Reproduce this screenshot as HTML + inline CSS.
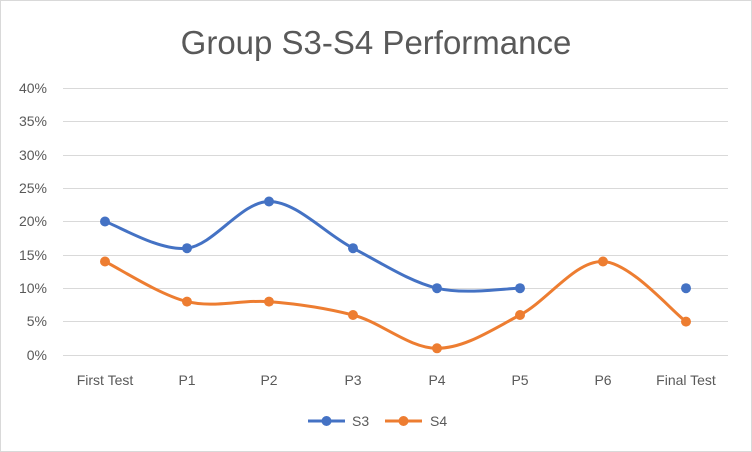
<!DOCTYPE html>
<html><head><meta charset="utf-8"><style>
html,body{margin:0;padding:0;background:#fff;}
svg{display:block;font-family:"Liberation Sans",Calibri,sans-serif;}
</style></head><body>
<svg width="752" height="452" viewBox="0 0 752 452" xmlns="http://www.w3.org/2000/svg">
<rect x="0.5" y="0.5" width="751" height="451" fill="#fff" stroke="#d9d9d9"/>
<text x="376" y="54" text-anchor="middle" font-size="33" fill="#595959">Group S3-S4 Performance</text>
<g stroke="#d9d9d9" stroke-width="1">
<line x1="63" y1="88.5" x2="728" y2="88.5"/>
<line x1="63" y1="121.5" x2="728" y2="121.5"/>
<line x1="63" y1="155.5" x2="728" y2="155.5"/>
<line x1="63" y1="188.5" x2="728" y2="188.5"/>
<line x1="63" y1="221.5" x2="728" y2="221.5"/>
<line x1="63" y1="255.5" x2="728" y2="255.5"/>
<line x1="63" y1="288.5" x2="728" y2="288.5"/>
<line x1="63" y1="321.5" x2="728" y2="321.5"/>
<line x1="63" y1="355.5" x2="728" y2="355.5"/>
</g>
<g font-size="14" fill="#595959" text-anchor="end">
<text x="47" y="93">40%</text><text x="47" y="126">35%</text><text x="47" y="160">30%</text>
<text x="47" y="193">25%</text><text x="47" y="226">20%</text><text x="47" y="260">15%</text>
<text x="47" y="293">10%</text><text x="47" y="326">5%</text><text x="47" y="360">0%</text>
</g>
<g font-size="14" fill="#595959" text-anchor="middle">
<text x="105" y="385">First Test</text><text x="187" y="385">P1</text><text x="269" y="385">P2</text>
<text x="353" y="385">P3</text><text x="437" y="385">P4</text><text x="520" y="385">P5</text>
<text x="603" y="385">P6</text><text x="686" y="385">Final Test</text>
</g>
<path d="M105,221.5 C118.7,226 159.7,251.5 187,248.2 C214.3,244.9 241.3,201.5 269,201.5 C296.7,201.5 325,233.8 353,248.2 C381,262.6 409.2,281.5 437,288.2 C464.8,294.9 506.2,288.2 520,288.2" fill="none" stroke="#4472c4" stroke-width="3"/>
<path d="M105,261.5 C118.7,268.2 159.7,294.9 187,301.6 C214.3,308.3 241.3,299.4 269,301.6 C296.7,303.8 325,307.8 353,315 C381,322.1 409.2,348.3 437,348.3 C464.8,348.3 492.3,329.5 520,315 C547.7,300.5 575.3,260.4 603,261.5 C630.7,262.6 672.2,311.6 686,321.6" fill="none" stroke="#ed7d31" stroke-width="3"/>
<g fill="#4472c4">
<circle cx="105" cy="221.5" r="5"/><circle cx="187" cy="248.2" r="5"/><circle cx="269" cy="201.5" r="5"/>
<circle cx="353" cy="248.2" r="5"/><circle cx="437" cy="288.2" r="5"/><circle cx="520" cy="288.2" r="5"/>
<circle cx="686" cy="288.2" r="5"/>
</g>
<g fill="#ed7d31">
<circle cx="105" cy="261.5" r="5"/><circle cx="187" cy="301.6" r="5"/><circle cx="269" cy="301.6" r="5"/>
<circle cx="353" cy="315" r="5"/><circle cx="437" cy="348.3" r="5"/><circle cx="520" cy="315" r="5"/>
<circle cx="603" cy="261.5" r="5"/><circle cx="686" cy="321.6" r="5"/>
</g>
<line x1="308" y1="421" x2="345" y2="421" stroke="#4472c4" stroke-width="3"/>
<circle cx="326.5" cy="421" r="5" fill="#4472c4"/>
<text x="352" y="426" font-size="14" fill="#595959">S3</text>
<line x1="385" y1="421" x2="422" y2="421" stroke="#ed7d31" stroke-width="3"/>
<circle cx="403.5" cy="421" r="5" fill="#ed7d31"/>
<text x="430" y="426" font-size="14" fill="#595959">S4</text>
</svg>
</body></html>
